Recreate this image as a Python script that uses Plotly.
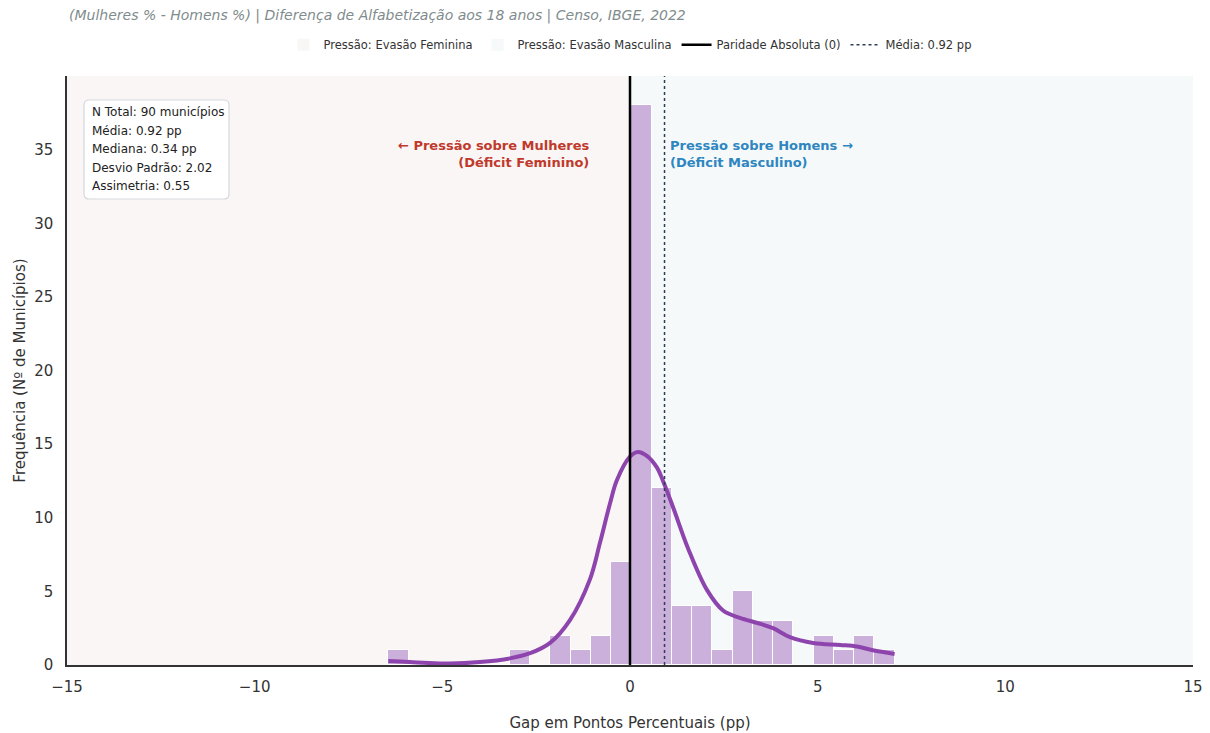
import plotly.graph_objects as go

_FONT = "DejaVu Sans, Arial, sans-serif"

# ── Data ──────────────────────────────────────────────────────────────────────
bin_start = -6.44
bin_width = 0.5396
bin_counts = [1, 0, 0, 0, 0, 0, 1, 0, 2, 1, 2, 7, 38, 12, 4, 4, 1, 5, 3, 3, 0, 2, 1, 2, 1]

kde_x = [-6.44, -5.5, -4.8, -4.0, -3.2, -2.66, -2.13, -1.6, -1.07, -0.8, -0.53, -0.35,
         0.0, 0.21, 0.45, 0.72, 0.88, 1.15, 1.55, 2.05, 2.48, 2.93, 3.4, 3.81, 4.26,
         4.88, 5.6, 6.05, 6.47, 7.05]
kde_y = [0.27, 0.15, 0.1, 0.2, 0.45, 0.8, 1.5, 3.05, 5.8, 8.3, 11.0, 12.55,
         14.15, 14.47, 14.2, 13.4, 12.5, 10.7, 7.9, 5.1, 3.7, 3.2, 2.85, 2.5, 1.9,
         1.5, 1.36, 1.25, 1.0, 0.75]

mean_gap = 0.92
stats_lines = [
    "N Total: 90 municípios",
    "Média: 0.92 pp",
    "Mediana: 0.34 pp",
    "Desvio Padrão: 2.02",
    "Assimetria: 0.55",
]

bin_centers = [bin_start + bin_width * (i + 0.5) for i in range(len(bin_counts))]

# plot-area size in px (used to place the stats box in paper coords)
_PW, _PH = 1126, 589

fig = go.Figure()

# Histogram bars
fig.add_trace(go.Bar(
    x=bin_centers, y=bin_counts, width=bin_width,
    marker=dict(color="#cbb0dc", line=dict(color="white", width=1)),
    showlegend=False,
))

# KDE curve
fig.add_trace(go.Scatter(
    x=kde_x, y=kde_y, mode="lines",
    line=dict(color="#8e44ad", width=4, shape="spline", smoothing=1.0),
    showlegend=False,
))

# Background pressure zones (with legend entries)
fig.add_shape(type="rect", x0=-15, x1=0, y0=0, y1=1, xref="x", yref="paper",
              fillcolor="#faf6f6", line_width=0, layer="below",
              showlegend=True, name="Pressão: Evasão Feminina", legendrank=1)
fig.add_shape(type="rect", x0=0, x1=15, y0=0, y1=1, xref="x", yref="paper",
              fillcolor="#f5f9fa", line_width=0, layer="below",
              showlegend=True, name="Pressão: Evasão Masculina", legendrank=2)

# Parity line and mean line
fig.add_shape(type="line", x0=0, x1=0, y0=0, y1=1, xref="x", yref="paper",
              line=dict(color="black", width=2.5),
              showlegend=True, name="Paridade Absoluta (0)", legendrank=3)
fig.add_shape(type="line", x0=mean_gap, x1=mean_gap, y0=0, y1=1, xref="x", yref="paper",
              line=dict(color="#2c3e50", width=1.5, dash="dot"),
              showlegend=True, name=f"Média: {mean_gap:.2f} pp", legendrank=4)

# Stats box: rounded rectangle in paper coords
bx0, bx1 = 17 / _PW, 162 / _PW
by0, by1 = 1 - 123 / _PH, 1 - 24 / _PH
rx, ry = 5 / _PW, 5 / _PH
box_path = (
    f"M {bx0 + rx},{by1} L {bx1 - rx},{by1} Q {bx1},{by1} {bx1},{by1 - ry} "
    f"L {bx1},{by0 + ry} Q {bx1},{by0} {bx1 - rx},{by0} "
    f"L {bx0 + rx},{by0} Q {bx0},{by0} {bx0},{by0 + ry} "
    f"L {bx0},{by1 - ry} Q {bx0},{by1} {bx0 + rx},{by1} Z"
)
fig.add_shape(type="path", path=box_path, xref="paper", yref="paper",
              fillcolor="white", line=dict(color="#d5d8dc", width=1.2), layer="above")

annotations = [
    dict(x=0, y=1.103, xref="paper", yref="paper", xanchor="left", yanchor="middle",
         text="<i>(Mulheres % - Homens %) | Diferença de Alfabetização aos 18 anos | Censo, IBGE, 2022</i>",
         showarrow=False, font=dict(size=14, color="#7f8c8d", family=_FONT)),
    dict(x=-1, y=34.7, xref="x", yref="y", xanchor="right", yanchor="middle",
         text="<b>← Pressão sobre Mulheres<br>(Déficit Feminino)</b>", align="right",
         showarrow=False, font=dict(size=13, color="#c0392b", family=_FONT)),
    dict(x=1.02, y=34.7, xref="x", yref="y", xanchor="left", yanchor="middle",
         text="<b>Pressão sobre Homens →<br>(Déficit Masculino)</b>", align="left",
         showarrow=False, font=dict(size=13, color="#2e86c1", family=_FONT)),
]
for i, line in enumerate(stats_lines):
    annotations.append(dict(
        x=23 / _PW, y=1 - (36 + 18.5 * i) / _PH, xref="paper", yref="paper",
        xanchor="left", yanchor="middle", text=line, showarrow=False,
        font=dict(size=12, color="#222", family=_FONT),
    ))

fig.update_layout(
    width=1202, height=725,
    paper_bgcolor="white", plot_bgcolor="white",
    font=dict(family=_FONT, color="#333"),
    margin=dict(l=59, r=17, t=68, b=68, autoexpand=False),
    bargap=0,
    legend=dict(orientation="h", x=0.5, xanchor="center", y=1.053, yanchor="middle",
                font=dict(size=11.5, color="#333"), bgcolor="rgba(0,0,0,0)"),
    xaxis=dict(range=[-15, 15], tickvals=[-15, -10, -5, 0, 5, 10, 15], automargin=False,
               showgrid=False, zeroline=False, showline=True, linecolor="#333", linewidth=1.5,
               ticks="", ticklabelstandoff=7, tickfont=dict(size=15, color="#333"),
               title=dict(text="Gap em Pontos Percentuais (pp)", font=dict(size=15), standoff=23)),
    yaxis=dict(range=[0, 40], tickvals=[0, 5, 10, 15, 20, 25, 30, 35], automargin=False,
               showgrid=False, zeroline=False, showline=True, linecolor="#333", linewidth=1.5,
               ticks="", ticklabelstandoff=9, tickfont=dict(size=15, color="#333"),
               title=dict(text="Frequência (Nº de Municípios)", font=dict(size=15), standoff=5)),
    annotations=annotations,
)

fig.write_html("out.html")
